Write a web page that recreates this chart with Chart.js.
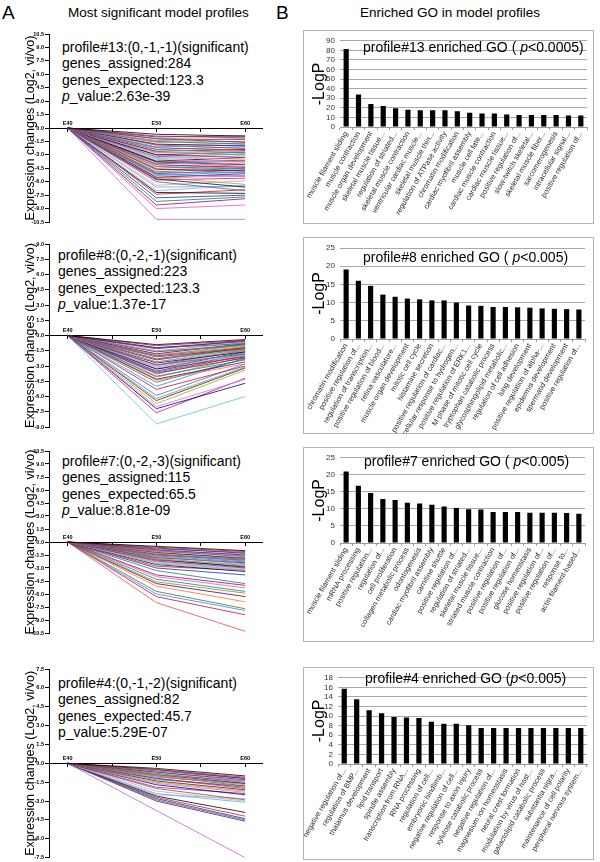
<!DOCTYPE html>
<html><head><meta charset="utf-8">
<script src="https://cdn.jsdelivr.net/npm/chart.js@4.4.0/dist/chart.umd.min.js"></script>
<style>
body{margin:0;background:#fff;width:600px;height:862px;position:relative;overflow:hidden;font-family:"Liberation Sans",Arial,sans-serif;color:#000;}
canvas{position:absolute;}
.t{position:absolute;white-space:nowrap;}
.info{position:absolute;font-size:14px;line-height:16.4px;white-space:nowrap;}
.box{position:absolute;border:1px solid #b4b4b4;box-sizing:border-box;}
.gt{position:absolute;font-size:14px;line-height:16px;white-space:nowrap;}
</style></head><body>
<div class="t" style="left:2px;top:2px;font-size:19px;">A</div>
<div class="t" style="left:276px;top:2px;font-size:19px;">B</div>
<div class="t" style="left:68px;top:5px;font-size:13.5px;">Most significant model profiles</div>
<div class="t" style="left:360px;top:5px;font-size:13.5px;">Enriched GO in model profiles</div>

<div class="info" style="left:62px;top:39px;">profile#13:(0,-1,-1)(significant)<br>genes_assigned:284<br>genes_expected:123.3<br><i>p</i>_value:2.63e-39</div>
<div class="info" style="left:58px;top:247px;">profile#8:(0,-2,-1)(significant)<br>genes_assigned:223<br>genes_expected:123.3<br><i>p</i>_value:1.37e-17</div>
<div class="info" style="left:62px;top:453px;">profile#7:(0,-2,-3)(significant)<br>genes_assigned:115<br>genes_expected:65.5<br><i>p</i>_value:8.81e-09</div>
<div class="info" style="left:58px;top:675px;">profile#4:(0,-1,-2)(significant)<br>genes_assigned:82<br>genes_expected:45.7<br>p_value:5.29E-07</div>

<canvas id="l13" width="272" height="206" style="left:0;top:24px;"></canvas>
<canvas id="l8" width="272" height="200" style="left:0;top:234px;"></canvas>
<canvas id="l7" width="272" height="200" style="left:0;top:441px;"></canvas>
<canvas id="l4" width="272" height="203" style="left:0;top:659px;"></canvas>

<div class="box" style="left:303px;top:30px;width:291px;height:194px;"></div>
<div class="box" style="left:303px;top:237px;width:291px;height:197px;"></div>
<div class="box" style="left:303px;top:447px;width:291px;height:195px;"></div>
<div class="box" style="left:303px;top:667px;width:291px;height:193px;"></div>
<canvas id="b13" width="299" height="192" style="left:294px;top:31px;"></canvas>
<canvas id="b8" width="299" height="195" style="left:294px;top:238px;"></canvas>
<canvas id="b7" width="299" height="193" style="left:294px;top:448px;"></canvas>
<canvas id="b4" width="299" height="191" style="left:294px;top:668px;"></canvas>

<div class="gt" style="left:363px;top:39px;">profile#13 enriched GO ( <i>p</i>&lt;0.0005)</div>
<div class="gt" style="left:363px;top:249px;">profile#8 enriched GO ( <i>p</i>&lt;0.005)</div>
<div class="gt" style="left:364px;top:453px;">profile#7 enriched GO ( <i>p</i>&lt;0.005)</div>
<div class="gt" style="left:365px;top:670px;">profile#4 enriched GO (<i>p</i>&lt;0.005)</div>

<script>
// ---- time points ----
const timeLabels = ['E40', 'E50', 'E60'];
const timeValues = [40, 50, 60];

// ---- model profile lines: value at E40 is 0, then E50 / E60 (log2 change) ----
const p13E50 = [-0.7,-0.9,-1.0,-1.2,-1.2,-1.4,-1.5,-1.6,-1.8,-1.9,-1.9,-2.1,-2.2,-2.4,-2.4,-2.6,-2.7,-2.8,-3.0,-3.0,-3.2,-3.3,-3.4,-3.5,-3.7,-3.8,-3.8,-4.0,-4.1,-4.3,-4.3,-4.5,-4.6,-4.7,-4.9,-5.0,-5.1,-5.2,-5.3,-5.5,-5.5,-5.6,-5.7,-5.8,-6.0,-6.4,-6.6,-7.0,-7.2,-7.4,-7.8,-8.2,-8.6,-9.0,-10.2];
const p13E60 = [-0.9,-1.1,-0.9,-1.3,-1.6,-1.2,-1.8,-1.5,-2.0,-1.7,-2.3,-1.9,-2.5,-2.1,-2.8,-2.4,-3.0,-2.6,-2.7,-3.3,-2.9,-3.5,-3.1,-3.8,-3.3,-3.6,-4.1,-3.7,-4.4,-3.9,-4.6,-4.1,-4.8,-4.3,-4.5,-5.0,-4.7,-5.4,-4.9,-5.1,-6.3,-5.3,-6.6,-5.6,-7.0,-5.9,-6.5,-6.4,-7.3,-6.9,-7.5,-7.7,-7.9,-8.6,-10.2];

const p8E50 = [-0.9,-1.0,-1.2,-1.2,-1.3,-1.5,-1.6,-1.6,-1.8,-1.9,-2.0,-2.0,-2.1,-2.3,-2.3,-2.4,-2.6,-2.6,-2.7,-2.9,-2.9,-3.0,-3.1,-3.2,-3.3,-3.3,-3.5,-3.6,-3.7,-3.8,-4.0,-4.1,-4.3,-4.4,-4.6,-5.0,-5.3,-5.9,-6.2,-6.4,-6.7,-7.0,-7.2,-7.6,-8.7];
const p8E60 = [-0.4,-0.5,-0.6,-0.8,-0.5,-0.7,-0.9,-1.0,-0.8,-1.1,-1.2,-0.9,-1.3,-1.1,-1.4,-1.2,-1.5,-1.3,-1.6,-1.4,-1.8,-1.5,-1.7,-1.9,-1.6,-2.1,-1.8,-2.0,-2.2,-1.9,-2.4,-2.1,-2.6,-2.8,-2.3,-2.2,-3.0,-2.8,-3.1,-3.2,-3.4,-4.3,-4.7,-4.2,-6.0];

const p7E50 = [-0.5,-0.6,-0.7,-0.8,-0.9,-1.0,-1.0,-1.1,-1.2,-1.3,-1.4,-1.4,-1.5,-1.6,-1.7,-1.8,-1.9,-2.0,-2.0,-2.1,-2.2,-2.3,-2.4,-2.5,-2.6,-2.8,-3.0,-3.3,-3.8,-4.0,-4.3,-4.6,-4.8,-5.1,-5.7,-6.0,-6.3,-7.0];
const p7E60 = [-1.0,-1.1,-1.3,-1.2,-1.5,-1.4,-1.7,-1.6,-1.9,-1.8,-2.0,-2.2,-2.1,-2.3,-2.5,-2.4,-2.7,-2.6,-2.9,-2.8,-3.0,-3.1,-3.2,-3.3,-3.4,-3.3,-3.8,-4.8,-5.0,-5.3,-5.7,-5.9,-6.3,-6.9,-7.7,-7.9,-8.4,-10.3];

const p4E50 = [-0.4,-0.5,-0.5,-0.6,-0.7,-0.7,-0.8,-0.9,-0.9,-1.0,-1.0,-1.1,-1.2,-1.2,-1.3,-1.4,-1.5,-1.6,-1.7,-1.9,-2.0,-2.2,-2.4,-2.5,-2.6,-2.7,-2.8,-2.9,-3.0,-3.75];
const p4E60 = [-1.0,-1.1,-1.2,-1.2,-1.3,-1.4,-1.5,-1.4,-1.6,-1.7,-1.8,-1.6,-1.9,-2.0,-1.8,-2.1,-2.2,-2.3,-2.5,-2.4,-2.9,-3.0,-3.1,-2.8,-3.9,-4.2,-4.4,-4.5,-4.6,-7.5];

// ---- enriched GO terms (-LogP) ----
const go13Terms = ['muscle filament sliding','muscle contraction','muscle organ development','skeletal muscle tissue...','regulation of striated...','skeletal muscle contraction','ventricular cardiac muscle...','skeletal muscle thin...','regulation of ATPase activity','chromatin modification','cardiac myofibril assembly','muscle cell fate...','cardiac muscle contraction','cardiac muscle tissue...','positive regulation of...','slow-twitch skeletal...','skeletal muscle fiber...','sarcomerogenesis','intracellular signal...','positive regulation of...'];
const go13Values = [81.5,34,24,22,19.5,18,17.5,17.5,17.5,16.5,15,14,14,13,12.5,12.5,12.5,12.5,12,12];

const go8Terms = ['chromatin modification','positive regulation of...','regulation of transcription...','positive regulation of blood...','retina vasculature...','muscle organ development','mitotic cell cycle','histamine secretion','positive regulation of cardiac...','cellular response to hydrogen...','positive regulation of ERK1...','M phase of mitotic cell cycle','tryptophan catabolic process','glycosphingolipid metabolic...','regulation of cell adhesion','lung development','positive regulation of alpha-...','epidermis development','spermatid development','positive regulation of...'];
const go8Values = [19.1,16,14.6,12.2,11.6,11.1,10.9,10.6,10.6,10,9.2,9.1,8.8,8.8,8.7,8.6,8.4,8.3,8.2,8.1];

const go7Terms = ['muscle filament sliding','mRNA processing','positive regulation...','regulation of...','cell proliferation','collagen metabolic process','odontogenesis','cardiac myofibril assembly','carnitine shuttle','positive regulation of...','regulation of striated...','skeletal muscle tissue...','striated muscle contraction','positive regulation of...','positive regulation of...','glucose homeostasis','positive regulation of...','positive regulation of...','response to...','actin filament-based...'];
const go7Values = [21,16.8,14.7,12.9,12.6,11.8,11.6,11.2,10.7,10.3,9.9,9.8,9.1,9.1,9.1,8.9,8.9,8.9,8.8,8.6];

const go4Terms = ['negative regulation of...','regulation of BMP...','thalamus development','lipid transport','spindle assembly','transcription from RNA...','RNA processing','regulation of cell...','embryonic hindlimb...','negative regulation of cell...','response to axon injury','xylulose catabolic process','negative regulation of...','magnesium ion homeostasis','neural crest formation','modulation by virus of host...','galactolipid catabolic process','substantia nigra...','maintenance of cell polarity','peripheral nervous system...'];
const go4Values = [15.7,13.5,11.2,10.6,9.8,9.7,9.6,8.8,8.4,8.4,8.1,7.5,7.5,7.5,7.5,7.5,7.5,7.5,7.5,7.5];

// ---- styles ----
const palette = ['#000000','#e01010','#1530c0','#208040','#900090','#ff50a0','#008b8b','#b08000','#400080','#ff7030','#556b2f','#1e90ff','#c01040','#6a5acd','#20b2aa','#800000','#90b020','#d070d0','#000080','#c71585','#606060','#ff9090','#40c0e0','#a0a0ff'];
const FONT = '"Liberation Sans", Arial, sans-serif';
Chart.defaults.font.family = FONT;

const timeLabelPlugin = {
  id: 'timeLabels',
  afterDraw(chart) {
    const ctx = chart.ctx, xs = chart.scales.x, ys = chart.scales.y;
    const y0 = ys.getPixelForValue(0);
    ctx.save();
    ctx.font = 'bold 5.5px ' + FONT;
    ctx.fillStyle = '#000';
    ctx.textAlign = 'center';
    ctx.textBaseline = 'bottom';
    timeValues.forEach((v, i) => ctx.fillText(timeLabels[i], xs.getPixelForValue(v), y0 - 2));
    ctx.restore();
  }
};

function lineChart(id, e50, e60, ymax, padBottom, lastColor) {
  const datasets = e50.map((v, i) => ({
    data: [{x: timeValues[0], y: 0}, {x: timeValues[1], y: v}, {x: timeValues[2], y: e60[i]}],
    borderColor: i === e50.length - 1 ? lastColor : palette[i % palette.length],
    borderWidth: 0.8, pointRadius: 0, fill: false, tension: 0
  }));
  new Chart(document.getElementById(id), {
    type: 'line',
    data: {datasets},
    options: {
      responsive: false, animation: false, devicePixelRatio: 1,
      layout: {padding: {top: 10, bottom: padBottom, right: 10, left: 0}},
      plugins: {legend: {display: false}, tooltip: {enabled: false}},
      scales: {
        x: {
          type: 'linear', position: {y: 0}, min: 37.9, max: 61.9,
          ticks: {display: false, stepSize: 5, includeBounds: false},
          grid: {drawOnChartArea: false, tickLength: 3, color: '#000'},
          border: {color: '#000', width: 1}
        },
        y: {
          min: -ymax, max: ymax,
          ticks: {stepSize: 1.5, callback: v => Number(v).toFixed(1), font: {size: 5.5, weight: 'bold'}, color: '#000', padding: 1, autoSkip: false},
          grid: {drawOnChartArea: false, tickLength: 4, color: '#000'},
          border: {color: '#000', width: 1},
          title: {display: true, text: 'Expression changes (Log2, vi/vo)', font: {size: 12.5}, color: '#000', padding: 23},
          afterFit(s) { s.width = 49; }
        }
      }
    },
    plugins: [timeLabelPlugin]
  });
}

function barChart(id, terms, values, ymax, step, o) {
  new Chart(document.getElementById(id), {
    type: 'bar',
    data: {labels: terms, datasets: [{data: values, backgroundColor: '#000', barPercentage: 0.42, categoryPercentage: 1}]},
    options: {
      responsive: false, animation: false, devicePixelRatio: 1,
      layout: {padding: {top: o.pt, right: o.pr, left: 0, bottom: 0}},
      plugins: {legend: {display: false}, tooltip: {enabled: false}},
      scales: {
        x: {
          grid: {drawOnChartArea: false, tickLength: 3, color: '#9a9a9a'},
          border: {color: '#9a9a9a'},
          ticks: {autoSkip: false, maxRotation: 60, minRotation: 60, font: {size: 7.5}, color: '#2a2a2a', padding: 0},
          afterFit(s) { s.height = o.xh; s.paddingLeft = 0; s.paddingRight = 0; }
        },
        y: {
          min: 0, max: ymax,
          ticks: {stepSize: step, autoSkip: false, font: {size: 8}, color: '#333', padding: 5},
          grid: {color: '#a8a8a8', drawTicks: false},
          border: {display: false},
          title: {display: true, text: '-LogP', font: {size: 16}, color: '#000', padding: 16},
          afterFit(s) { s.width = o.yw + 10; }
        }
      }
    }
  });
}

lineChart('l13', p13E50, p13E60, 10.5, 8, '#b070d0');
lineChart('l8', p8E50, p8E60, 9.0, 7, '#50c8c8');
lineChart('l7', p7E50, p7E60, 10.5, 8, '#ff4040');
lineChart('l4', p4E50, p4E60, 7.5, 3, '#c060d0');

barChart('b13', go13Terms, go13Values, 90, 10, {pt: 9, pr: 6, xh: 96, yw: 36});
barChart('b8', go8Terms, go8Values, 25, 5, {pt: 10, pr: 8, xh: 94, yw: 36});
barChart('b7', go7Terms, go7Values, 25, 5, {pt: 6, pr: 8, xh: 98, yw: 36});
barChart('b4', go4Terms, go4Values, 18, 2, {pt: 7, pr: 6, xh: 95, yw: 34});
</script>
</body></html>
